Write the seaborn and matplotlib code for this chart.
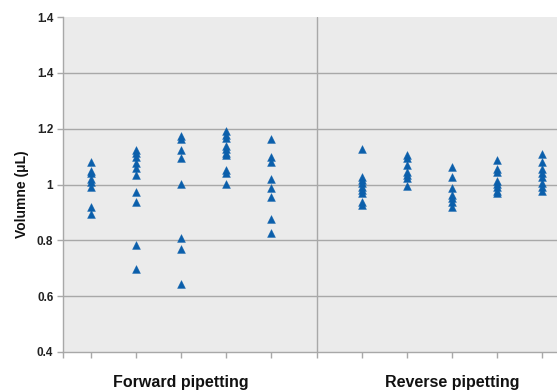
import numpy as np
import pandas as pd
import seaborn as sns
import matplotlib.pyplot as plt
from matplotlib.transforms import blended_transform_factory

sns.set_theme(style="white")
plt.rcParams['font.family'] = ['Liberation Sans', 'DejaVu Sans']

groups = ["Forward pipetting", "Reverse pipetting"]
fwd1 = [1.08, 1.05, 1.04, 1.02, 1.01, 0.99, 0.92, 0.895]
fwd2 = [1.124, 1.114, 1.10, 1.078, 1.058, 1.034, 0.972, 0.936, 0.783, 0.697]
fwd3 = [1.174, 1.162, 1.124, 1.094, 1.001, 0.810, 0.770, 0.643]
fwd4 = [1.19, 1.178, 1.166, 1.138, 1.127, 1.114, 1.106, 1.052, 1.04, 1.001]
fwd5 = [1.163, 1.098, 1.08, 1.019, 0.989, 0.957, 0.876, 0.825]
rev1 = [1.126, 1.028, 1.016, 1.005, 0.992, 0.981, 0.969, 0.939, 0.927]
rev2 = [1.106, 1.094, 1.07, 1.046, 1.034, 1.022, 0.995]
rev3 = [1.061, 1.028, 0.987, 0.963, 0.951, 0.939, 0.919]
rev4 = [1.088, 1.055, 1.043, 1.014, 1.002, 0.99, 0.978, 0.969]
rev5 = [1.11, 1.08, 1.055, 1.04, 1.028, 1.007, 0.992, 0.978]

series = [fwd1, fwd2, fwd3, fwd4, fwd5, rev1, rev2, rev3, rev4, rev5]
yticks = [0.4, 0.6, 0.8, 1.0, 1.2, 1.4, 1.6]
ytick_labels = ["0.4", "0.6", "0.8", "1", "1.2", "1.4", "1.4"]

rows = []
for i, vals in enumerate(series):
    pos = i if i < 5 else i + 1
    for v in vals:
        rows.append({"pos": pos, "vol": v})
df = pd.DataFrame(rows)

fig = plt.figure(figsize=(5.57, 3.91), dpi=100)
ax = fig.add_axes([63/557, 1-352/391, 1-63/557, (352-17)/391])
ax.set_facecolor("#ebebeb")

blue = "#0b5fab"
sns.scatterplot(data=df, x="pos", y="vol", marker="^", s=32, color=blue,
                edgecolor=blue, linewidth=0.3, ax=ax, zorder=3, legend=False)

ax.set_xlim(-0.62, 10.33)
ax.set_ylim(0.4, 1.6)
ax.set_yticks(yticks)
ax.set_yticklabels(ytick_labels)
for y in yticks[1:-1]:
    ax.axhline(y, color="#a8a8a8", lw=1.0, zorder=1)
ax.axvline(5, color="#a8a8a8", lw=1.0, zorder=1)

xt = [-0.62, 0, 1, 2, 3, 4, 5, 6, 7, 8, 9, 10]
ax.set_xticks(xt)
ax.set_xticklabels([])
ax.tick_params(axis="x", direction="out", length=4, color="#a8a8a8", width=1, bottom=True)
ax.tick_params(axis="y", direction="out", length=4, color="#a8a8a8", width=1, left=True,
               labelsize=8.5, pad=3)
for lab in ax.get_yticklabels():
    lab.set_fontweight("bold")
    lab.set_color("#222222")

for side in ["top", "right"]:
    ax.spines[side].set_visible(False)
for side in ["left", "bottom"]:
    ax.spines[side].set_color("#a8a8a8")
    ax.spines[side].set_linewidth(1.0)

ax.set_xlabel("")
ax.set_ylabel("Volumne (μL)", fontsize=10, fontweight="bold", color="#111111", va="center")
ax.yaxis.set_label_coords(-41/494, (352-194)/335)

tr = blended_transform_factory(ax.transData, ax.transAxes)
ax.text(2, -(383-352)/335, groups[0], transform=tr, ha="center", va="center",
        fontsize=11.5, fontweight="bold", color="#111111")
ax.text(8, -(383-352)/335, groups[1], transform=tr, ha="center", va="center",
        fontsize=11.5, fontweight="bold", color="#111111")

fig.savefig("out.png", dpi=100)
